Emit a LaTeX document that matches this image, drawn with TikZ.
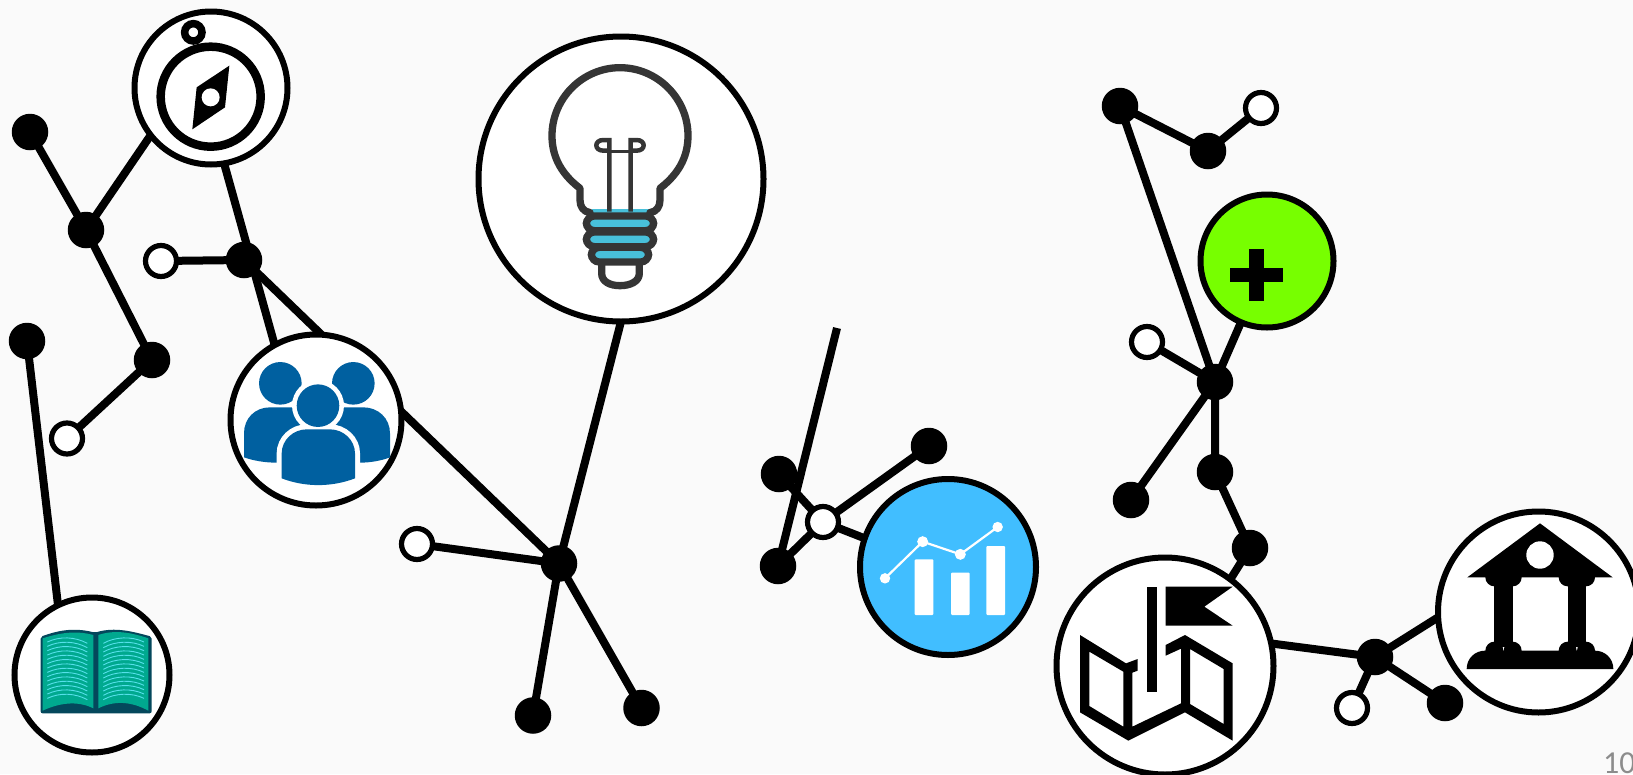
\documentclass[tikz,border=0pt]{standalone}
\usepackage{fontspec}
\setmainfont{Carlito}
\definecolor{pagebg}{HTML}{FAFAFA}
\definecolor{peopleblue}{HTML}{0060A0}
\definecolor{bookdark}{HTML}{04485C}
\definecolor{bookgreen}{HTML}{00A98F}
\definecolor{bookline}{HTML}{55E0EA}
\definecolor{bulbdark}{HTML}{353535}
\definecolor{bulbcyan}{HTML}{48C0DA}
\definecolor{chartblue}{HTML}{41BEFF}
\definecolor{plusgreen}{HTML}{77FF00}
\definecolor{pagenum}{HTML}{8C8C8C}
\pgfdeclarelayer{pagelayer}
\pgfdeclarelayer{linelayer}
\pgfsetlayers{pagelayer,linelayer,main}
\tikzset{
  dotnode/.style={circle,fill=black,inner sep=0pt,outer sep=0pt,minimum size=36.5pt},
  opennode/.style={circle,draw=black,fill=white,line width=5.2pt,inner sep=0pt,outer sep=0pt,minimum size=31pt},
  bignode/.style={circle,draw=black,fill=white,line width=6pt,inner sep=0pt,outer sep=0pt,minimum size=#1},
  link/.style={line width=8pt,black},
  zoomed/.style={x=0.33333pt,y=-0.33333pt},
}
\begin{document}
\begin{tikzpicture}[x=1pt,y=-1pt]
\useasboundingbox (0,0) rectangle (1633,774);
\begin{pgfonlayer}{pagelayer}
\fill[pagebg] (0,0) rectangle (1633,774);
\end{pgfonlayer}

% big circles
\node[bignode=153pt] (compass) at (211,88) {};
\node[bignode=171pt] (people) at (316,420) {};
\node[bignode=155pt] (book) at (92,675) {};
\node[bignode=285pt] (bulb) at (621,179) {};
\node[bignode=176pt,fill=chartblue] (chart) at (948,567) {};
\node[bignode=133pt,fill=plusgreen] (plus) at (1267,261) {};
\node[bignode=217pt] (map) at (1165,666) {};
\node[bignode=201pt] (bank) at (1538.5,612) {};

% small nodes
\node[dotnode] (a1) at (30,132) {};
\node[dotnode] (a2) at (86,230) {};
\node[dotnode] (a3) at (152,360) {};
\node[dotnode] (a4) at (27,341) {};
\node[opennode] (a6) at (67,438.5) {};
\node[opennode] (b0) at (161,261) {};
\node[dotnode] (b1) at (244,260) {};
\node[dotnode] (h1) at (559,563.5) {};
\node[opennode] (h2) at (417,544) {};
\node[dotnode] (h3) at (533,715.5) {};
\node[dotnode] (h4) at (641.5,708) {};
\node[dotnode] (c1) at (779,474) {};
\node[dotnode] (c2) at (778,566) {};
\node[opennode] (c3) at (823,522) {};
\node[dotnode] (c4) at (929,446) {};
\node[dotnode] (r1) at (1120,106) {};
\node[dotnode] (r2) at (1208,151) {};
\node[opennode] (r3) at (1261,108) {};
\node[dotnode] (r4) at (1215,382) {};
\node[opennode] (r5) at (1147,342) {};
\node[dotnode] (r6) at (1131,500) {};
\node[dotnode] (r7) at (1215,472) {};
\node[dotnode] (r8) at (1250,548) {};
\node[dotnode] (s1) at (1375,657) {};
\node[opennode] (s2) at (1352,708) {};
\node[dotnode] (s3) at (1445,703) {};
\coordinate (longtop) at (837,328);
\coordinate (crossA) at (212,120);
\coordinate (crossB) at (290,400);

\begin{pgfonlayer}{linelayer}
\draw[link] (a1.center) -- (a2.center) -- (a3.center) -- (a6.center);
\draw[link] (a2.center) -- (compass.218);
\draw[link] (a4.center) -- (book.116);
\draw[link] (crossA) -- (crossB);
\draw[link] (b0.center) -- (b1.center);
\draw[link] (b1.center) -- (h1.center);
\draw[link] (bulb.south) -- (h1.center);
\draw[link] (h2.center) -- (h1.center);
\draw[link] (h1.center) -- (h3.center);
\draw[link] (h1.center) -- (h4.center);
\draw[link] (c1.center) -- (c3.center);
\draw[link] (c2.center) -- (c3.center);
\draw[link] (c4.center) -- (c3.center);
\draw[link] (c3.center) -- (chart.161);
\draw[link] (c2.center) -- (longtop);
\draw[link] (r3.center) -- (r2.center) -- (r1.center) -- (r4.center);
\draw[link] (r4.center) -- (plus.247);
\draw[link] (r4.center) -- (r5.center);
\draw[link] (r4.center) -- (r6.center);
\draw[link] (r4.center) -- (r7.center) -- (r8.center) -- (map.53);
\draw[link] (map.12) -- (s1.center);
\draw[link] (s1.center) -- (bank.183);
\draw[link] (s1.center) -- (s2.center);
\draw[link] (s1.center) -- (s3.center);
\end{pgfonlayer}

% compass icon
\begin{scope}[shift={(0,0)},zoomed]
\draw[line width=8.5pt] (632,290) circle[radius=50pt];
\draw[line width=7.5pt] (580,97) circle[radius=8.7pt];
\fill (688,197) -- (590,262) -- (577,388) -- (675,322) -- cycle;
\fill[white] (632,292) circle[radius=9pt];
\end{scope}

% people icon
\begin{scope}[shift={(220,330)},zoomed]
\fill[peopleblue] (181,160) circle[radius=21.3pt];
\fill[peopleblue] (400,160) circle[radius=21.3pt];
\fill[peopleblue] (72,382) -- (72,310) .. controls (72,265) and (105,232) .. (150,232) -- (300,232) -- (300,398) -- (170,398) .. controls (135,398) and (100,392) .. (72,382) -- cycle;
\fill[peopleblue] (510,382) -- (510,310) .. controls (510,265) and (475,232) .. (430,232) -- (280,232) -- (280,398) -- (420,398) .. controls (450,398) and (485,392) .. (510,382) -- cycle;
\fill[white] (294,227) circle[radius=26pt];
\fill[white] (170,445) rectangle (420,398);
\draw[white,line width=10pt] (185,445) -- (185,370) .. controls (185,330) and (220,298) .. (260,298) -- (330,298) .. controls (370,298) and (405,330) .. (405,370) -- (405,445);
\fill[peopleblue] (185,445) -- (185,370) .. controls (185,330) and (220,298) .. (260,298) -- (330,298) .. controls (370,298) and (405,330) .. (405,370) -- (405,445) .. controls (335,472) and (255,472) .. (185,445) -- cycle;
\fill[peopleblue] (294,227) circle[radius=21.3pt];
\end{scope}

% book icon
\begin{scope}[shift={(0,580)},zoomed]
\fill[bookdark,rounded corners=2pt] (122,170) .. controls (165,155) and (215,140) .. (285,158) .. controls (345,140) and (400,155) .. (455,170) -- (455,400) -- (122,400) -- cycle;
\fill[bookgreen] (128,175) .. controls (175,160) and (225,150) .. (280,165) -- (280,385) .. controls (230,360) and (175,370) .. (128,392) -- cycle;
\fill[bookgreen] (295,165) .. controls (345,148) and (395,158) .. (445,175) -- (445,392) .. controls (395,365) and (345,360) .. (295,385) -- cycle;
\foreach \d in {0,13,...,170}{
  \draw[bookline,line width=0.9pt] (142,{186+\d}) .. controls (180,{168+\d}) and (225,{170+\d}) .. (262,{190+\d});
  \draw[bookline,line width=0.9pt] (310,{190+\d}) .. controls (345,{170+\d}) and (395,{168+\d}) .. (432,{186+\d});
}
\end{scope}

% bulb icon
\begin{scope}[shift={(470,20)},zoomed]
\fill[bulbcyan] (365,568) rectangle (550,590);
\draw[bulbdark,line width=7.3pt,line join=round] (550,580) -- (540,578) .. controls (560,575) and (570,560) .. (570,540) -- (570,505) .. controls (635,455) and (654,400) .. (654,347) .. controls (654,235) and (562,143) .. (450,143) .. controls (338,143) and (246,235) .. (246,347) .. controls (246,400) and (265,455) .. (330,505) -- (330,540) .. controls (330,560) and (340,575) .. (360,578) -- (350,580);
\draw[bulbdark,line width=4.5pt] (418,575) -- (418,360) -- (400,360) .. controls (372,360) and (372,392) .. (400,392) -- (418,392);
\draw[bulbdark,line width=4.5pt] (482,575) -- (482,360) -- (500,360) .. controls (528,360) and (528,392) .. (500,392) -- (482,392);
\draw[bulbdark,line width=3pt] (418,393) -- (482,393);
\draw[bulbdark,line width=7.3pt,fill=white] (395,730) -- (395,760) .. controls (395,785) and (420,797) .. (450,797) .. controls (480,797) and (508,785) .. (508,760) -- (508,730);
\draw[bulbdark,line width=7.3pt,fill=bulbcyan,rounded corners=8pt] (349,588) rectangle (551,632);
\draw[bulbdark,line width=7.3pt,fill=bulbcyan,rounded corners=8pt] (349,636) rectangle (551,680);
\draw[bulbdark,line width=7.3pt,fill=bulbcyan,rounded corners=8pt] (364,682) rectangle (536,726);
\end{scope}

% chart icon
\begin{scope}[shift={(740,400)},zoomed]
\fill[white,rounded corners=1pt] (524,478) rectangle (580,645);
\fill[white,rounded corners=1pt] (633,518) rectangle (689,645);
\fill[white,rounded corners=1pt] (739,438) rectangle (795,645);
\draw[white,line width=2.2pt] (435,535) -- (548,425) -- (661,463) -- (773,381);
\fill[white] (435,535) circle[radius=5.2pt];
\fill[white] (548,425) circle[radius=5.5pt];
\fill[white] (661,463) circle[radius=5.5pt];
\fill[white] (773,381) circle[radius=5.2pt];
\end{scope}

% plus icon
\begin{scope}[shift={(1090,80)},zoomed]
\fill (420,565) rectangle (580,605);
\fill (478,507) rectangle (522,662);
\end{scope}

% map icon
\begin{scope}[shift={(1050,550)},zoomed]
\fill[even odd rule] (90,255) -- (228,340) -- (263,327) -- (263,362) -- (247,368) -- (247,530) -- (393,460) -- (393,296) -- (347,317) -- (347,285) -- (405,255) -- (548,340) -- (548,572) -- (405,487) -- (235,572) -- (90,487) -- cycle
  (118,305) -- (220,365) -- (220,530) -- (118,468) -- cycle
  (420,297) -- (521,357) -- (521,522) -- (420,462) -- cycle;
\fill (291,110) rectangle (320,427);
\fill (347,110) -- (548,110) -- (463,170) -- (548,227) -- (347,227) -- cycle;
\end{scope}

% bank icon
\begin{scope}[shift={(1430,500)},zoomed]
\fill (112,232) -- (330,70) -- (548,232) -- cycle;
\fill[white] (330,165) circle[radius=13.7pt];
\fill (193,232) rectangle (248,440);
\fill (413,232) rectangle (468,440);
\foreach \cx in {193,248,413,468}{
  \fill (\cx,232) circle[radius=9pt];
  \fill (\cx,452) circle[radius=9pt];
}
\fill (110,507) .. controls (110,475) and (135,452) .. (165,452) -- (495,452) .. controls (525,452) and (550,475) .. (550,507) -- cycle;
\end{scope}

\node[anchor=base west,inner sep=0pt,text=pagenum,font=\fontsize{32}{32}\selectfont] (pageno) at (1603,773) {10};
\end{tikzpicture}
\end{document}
